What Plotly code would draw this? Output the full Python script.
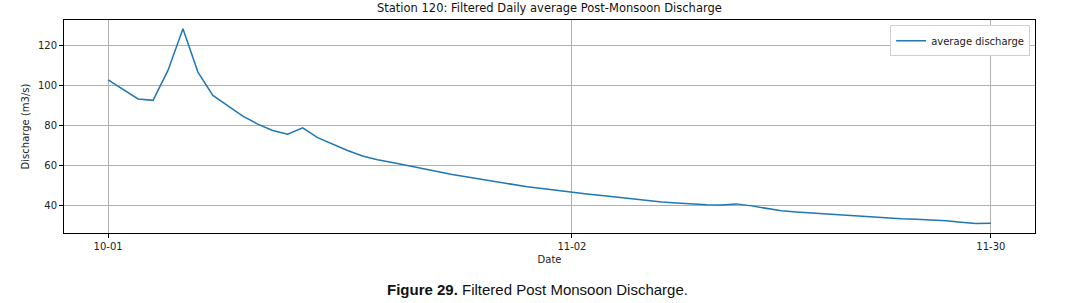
import plotly.graph_objects as go

# ---- data (daily filtered average discharge) ----
dates = [f"10-{d:02d}" for d in range(1, 32)] + [f"11-{d:02d}" for d in range(2, 31)]
discharge = [
    103.0, 98.2, 93.4, 92.7, 107.7, 128.6, 106.9, 95.2, 89.9, 84.8,
    80.8, 77.6, 75.7, 78.9, 74.0, 70.7, 67.6, 64.8, 62.9, 61.5,
    60.1, 58.6, 57.0, 55.5, 54.3, 53.0, 51.6, 50.4, 49.4, 48.5,
    47.5, 46.6, 45.8, 45.0, 44.2, 43.4, 42.5, 41.8, 41.3, 40.8,
    40.4, 40.2, 40.8, 39.8, 38.4, 37.3, 36.7, 36.2, 35.6, 35.2,
    34.8, 34.2, 33.7, 33.4, 33.1, 32.8, 32.3, 31.6, 31.0, 31.1,
]
x_ticks = ["10-01", "11-02", "11-30"]
y_ticks = [40, 60, 80, 100, 120]

FONT = "DejaVu Sans"

fig = go.Figure()
fig.add_trace(go.Scatter(
    x=dates, y=discharge, mode="lines",
    line=dict(color="#1f77b4", width=1.5),
    name="average discharge",
))

axis_common = dict(
    showline=True, linecolor="black", linewidth=1, mirror=True,
    ticks="outside", ticklen=4, tickcolor="black",
    showgrid=True, gridcolor="#b0b0b0", gridwidth=1,
    zeroline=False,
    tickfont=dict(family=FONT, size=10, color="#222"),
)

fig.update_layout(
    width=1074, height=303,
    margin=dict(l=64, r=39, t=20, b=70),
    paper_bgcolor="white", plot_bgcolor="white",
    showlegend=True,
    legend=dict(
        x=0.995, y=0.975, xanchor="right", yanchor="top",
        bordercolor="#d0d0d0", borderwidth=1, bgcolor="white",
        font=dict(family=FONT, size=10, color="#222"),
        itemwidth=30,
    ),
    xaxis=dict(
        type="category", range=[-2.95, 61.95],
        tickvals=x_ticks, ticktext=x_ticks,
        title=dict(text="Date", font=dict(family=FONT, size=10, color="#222"), standoff=4),
        **axis_common,
    ),
    yaxis=dict(
        range=[26.2, 133], tickvals=y_ticks,
        title=dict(text="Discharge (m3/s)", font=dict(family=FONT, size=10, color="#222"), standoff=6),
        **axis_common,
    ),
    annotations=[
        dict(text="Station 120: Filtered Daily average Post-Monsoon Discharge",
             xref="paper", yref="paper", x=0.5, y=1.0, yshift=3,
             xanchor="center", yanchor="bottom", showarrow=False,
             font=dict(family=FONT, size=11.5, color="#111")),
        dict(text="<b>Figure 29.</b> Filtered Post Monsoon Discharge.",
             xref="paper", yref="paper", x=0.488, y=0, yshift=-46,
             xanchor="center", yanchor="top", showarrow=False,
             font=dict(family="Liberation Sans", size=15, color="#111")),
    ],
)

# page body has a default 8px margin which shifts the figure; drop it
fig.write_html("out.html", config={"displayModeBar": False},
               post_script="document.body.style.margin='0';")
